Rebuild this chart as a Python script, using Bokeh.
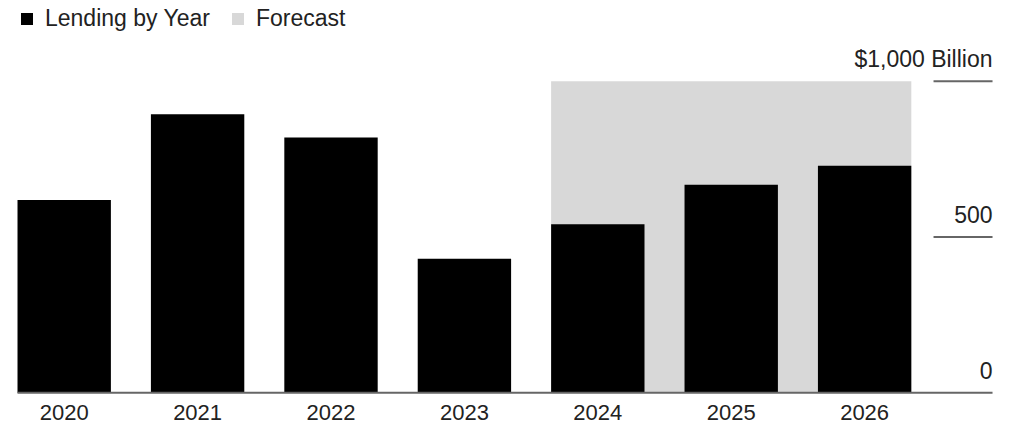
from bokeh.plotting import figure
from bokeh.models import Range1d, Legend, LegendItem, ColumnDataSource
from bokeh.core.properties import value
from bokeh.embed import file_html
from bokeh.resources import INLINE

years = [2020, 2021, 2022, 2023, 2024, 2025, 2026]
year_labels = ["2020", "2021", "2022", "2023", "2024", "2025", "2026"]
lending = [619, 894, 819, 430, 541, 668, 729]
forecast_years = [2024, 2026]
forecast_top = 1000
tick_values = [0, 500, 1000]
tick_labels = ["0", "500", "$1,000 Billion"]

FONT = value("Liberation Sans")
BAR_W = 0.70
PX = 0.3116  # pixels per data unit (vertical)

p = figure(width=1013, height=424, output_backend="svg", toolbar_location=None,
           x_range=Range1d(2019.5225, 2027.116), y_range=Range1d(-101.7, 1259),
           x_axis_location=None, y_axis_location=None, min_border=0,
           background_fill_color="white", border_fill_color="white")
p.outline_line_color = None
p.grid.visible = False

# forecast band
fq = p.quad(left=[forecast_years[0] - BAR_W / 2], right=[forecast_years[1] + BAR_W / 2],
            bottom=[0], top=[forecast_top], fill_color="#d8d8d8", line_color=None)

lab_y = [-19.5 / PX] * len(years)
src = ColumnDataSource(dict(x=years, top=lending, lab=year_labels, ly=lab_y))
bars = p.vbar(x="x", top="top", width=BAR_W, bottom=0, source=src,
              fill_color="#000000", line_color=None)

# baseline
x_end = 2019.5225 + 992 / 133.4
x_tick_start = 2019.5225 + 933 / 133.4
p.segment(x0=[years[0] - BAR_W / 2], x1=[x_end], y0=[0], y1=[0],
          line_color="#666666", line_width=2)
# right tick marks
p.segment(x0=[x_tick_start] * 2, x1=[x_end] * 2, y0=tick_values[1:], y1=tick_values[1:],
          line_color="#666666", line_width=2)

tsrc = ColumnDataSource(dict(x=[x_end] * 3, y=[v + 22.5 / PX for v in tick_values], t=tick_labels))
p.text(x="x", y="y", text="t", source=tsrc, text_align="right", text_baseline="middle",
       text_font=FONT, text_font_size="23px", text_color="#222222")

p.text(x="x", y="ly", text="lab", source=src, text_align="center", text_baseline="middle",
       text_font=FONT, text_font_size="22px", text_color="#222222")

legend = Legend(items=[LegendItem(label="Lending by Year", renderers=[bars]),
                       LegendItem(label="Forecast", renderers=[fq])],
                orientation="horizontal", location=(19, 392),
                glyph_width=15, glyph_height=15, label_standoff=11, spacing=20,
                padding=0, margin=0, label_text_font="Liberation Sans", label_text_font_size="23px",
                label_text_color="#222222", border_line_color=None,
                background_fill_alpha=0, label_height=20, label_text_baseline="middle")
p.add_layout(legend)

open("out.html", "w").write(file_html(p, INLINE))
